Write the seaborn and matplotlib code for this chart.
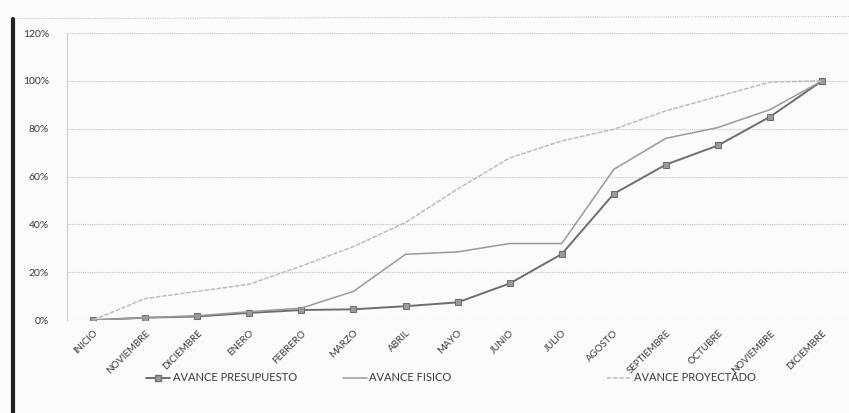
import numpy as np
import pandas as pd
import seaborn as sns
import matplotlib.pyplot as plt
from matplotlib.lines import Line2D
from matplotlib.ticker import PercentFormatter

# Categories (month labels along the x axis)
meses = ["INICIO", "NOVIEMBRE", "DICIEMBRE", "ENERO", "FEBRERO", "MARZO", "ABRIL",
         "MAYO", "JUNIO", "JULIO", "AGOSTO", "SEPTIEMBRE", "OCTUBRE", "NOVIEMBRE",
         "DICIEMBRE"]

# Values (fraction of 1)
avance_presupuesto = [0.00, 0.01, 0.015, 0.03, 0.042, 0.045, 0.058, 0.074, 0.153,
                      0.276, 0.528, 0.65, 0.73, 0.85, 1.00]
avance_fisico = [0.00, 0.01, 0.018, 0.035, 0.05, 0.12, 0.275, 0.285, 0.32, 0.32,
                 0.63, 0.76, 0.805, 0.88, 1.00]
avance_proyectado = [0.00, 0.09, 0.12, 0.15, 0.226, 0.307, 0.408, 0.548, 0.678,
                     0.749, 0.798, 0.875, 0.935, 0.995, 1.00]

series = {
    "AVANCE PRESUPUESTO": avance_presupuesto,
    "AVANCE FISICO": avance_fisico,
    "AVANCE PROYECTADO": avance_proyectado,
}
df = pd.DataFrame([
    {"idx": i, "serie": name, "valor": v}
    for name, vals in series.items()
    for i, v in enumerate(vals)
])

sns.set_style("white")
plt.rcParams["font.family"] = ["Lato", "DejaVu Sans"]

fig = plt.figure(figsize=(8.49, 4.13), dpi=100)
fig.patch.set_facecolor("#fbfbfb")
ax = fig.add_axes([0.079, 0.225, 0.92, 0.695])
ax.set_facecolor("#fbfbfb")

estilos = {
    "AVANCE PRESUPUESTO": dict(color="#6e6e6e", lw=1.4, marker="s", ms=4.5,
                               mfc="#9a9a9a", mec="#6e6e6e"),
    "AVANCE FISICO": dict(color="#9a9a9a", lw=1.1),
    "AVANCE PROYECTADO": dict(color="#bdbdbd", lw=1.1, ls=(0, (3, 1))),
}

for name in series:
    sub = df[df["serie"] == name]
    st = estilos[name]
    sns.lineplot(data=sub, x="idx", y="valor", ax=ax, sort=False,
                 color=st["color"], linewidth=st["lw"], linestyle=st.get("ls", "-"),
                 marker=st.get("marker"), markersize=st.get("ms", 0),
                 markerfacecolor=st.get("mfc"), markeredgecolor=st.get("mec"),
                 legend=False)

ax.set_xlim(-0.5, len(meses) - 0.5)
ax.set_ylim(0, 1.2)
ax.set_yticks(np.arange(0, 1.21, 0.2))
ax.yaxis.set_major_formatter(PercentFormatter(1.0, decimals=0))
ax.set_xticks(range(len(meses)))
ax.set_xticklabels(meses, rotation=45, ha="right", rotation_mode="anchor")
ax.tick_params(axis="x", labelsize=7, colors="#3a3a3a", pad=6, length=0)
ax.tick_params(axis="y", labelsize=7.5, colors="#3a3a3a", pad=13, length=0)
ax.set_xlabel("")
ax.set_ylabel("")
ax.grid(axis="y", color="#c4c4c4", linestyle=(0, (1, 1)), linewidth=0.8)
for s in ["top", "right", "bottom"]:
    ax.spines[s].set_visible(False)
ax.spines["left"].set_color("#d0d0d0")
ax.spines["left"].set_linestyle((0, (1, 1)))

# top frame line and thick left edge of the scanned frame
fig.add_artist(Line2D([0.02, 1.0], [0.955, 0.96], color="#c8c8c8", lw=0.8,
                      linestyle=(0, (1, 1))))
fig.add_artist(Line2D([0.015, 0.015], [0.0, 0.955], color="#222222", lw=3))

# Legend entries placed individually along the bottom
posiciones = [0.160, 0.392, 0.703]
for name, xpos in zip(series, posiciones):
    st = estilos[name]
    h = Line2D([], [], color=st["color"], lw=st["lw"], linestyle=st.get("ls", "-"),
               marker=st.get("marker"), markersize=st.get("ms", 0),
               markerfacecolor=st.get("mfc"), markeredgecolor=st.get("mec"))
    fig.legend(handles=[h], labels=[name], loc="center left",
               bbox_to_anchor=(xpos, 0.085), frameon=False, fontsize=8,
               handlelength=2.2, handletextpad=0.2, labelcolor="#3a3a3a")

fig.savefig("out.png", dpi=100, facecolor=fig.get_facecolor())
